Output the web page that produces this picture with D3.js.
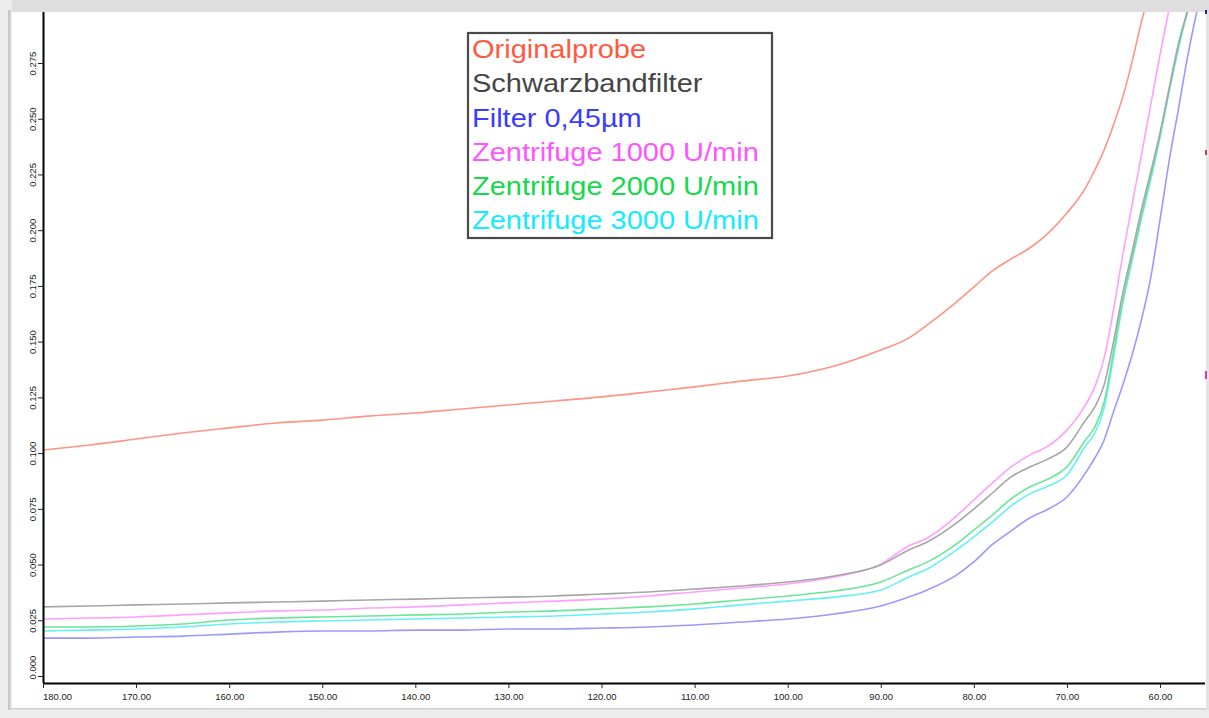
<!DOCTYPE html>
<html><head><meta charset="utf-8">
<script src="https://cdn.jsdelivr.net/npm/d3@7"></script>
<style>html,body{margin:0;padding:0;background:#fff;}svg{display:block;}</style>
</head><body>
<svg id="chart" width="1209" height="718"></svg>
<script>
const xs = [180,175,170,165,160,155,150,145,140,135,130,125,120,115,110,105,100,95,90,87,85,82,80,78,76,74,72,70,68,67,66,65,64,63,62,61,60,59,58,57,56,55.5];
const originalprobe = [.1014,.1036,.1063,.1090,.1113,.1135,.1148,.1166,.1180,.1198,.1216,.1234,.1252,.1274,.1297,.1323,.1346,.1391,.1463,.1516,.1575,.1673,.1745,.1817,.1871,.1920,.1987,.2077,.2190,.2270,.2360,.2472,.2598,.2755,.2934,.3087];
const schwarzband = [.0310,.0314,.0319,.0323,.0328,.0332,.0336,.0341,.0345,.0350,.0354,.0359,.0368,.0377,.0390,.0404,.0422,.0449,.0498,.0565,.0601,.0682,.0749,.0821,.0893,.0938,.0974,.1027,.1148,.1207,.1306,.1498,.1718,.1902,.2091,.2261,.2436,.2638,.2840,.2988,.3145,.3235];
const filter045 = [.0170,.0170,.0175,.0179,.0188,.0197,.0202,.0202,.0206,.0206,.0211,.0211,.0215,.0220,.0229,.0242,.0256,.0278,.0314,.0354,.0386,.0449,.0512,.0590,.0651,.0709,.0749,.0803,.0911,.0978,.1059,.1184,.1306,.1440,.1597,.1786,.2046,.2315,.2548,.2786,.2988,.3078];
const zentri1000 = [.0256,.0260,.0265,.0274,.0283,.0292,.0296,.0305,.0310,.0319,.0328,.0336,.0345,.0359,.0377,.0395,.0413,.0444,.0502,.0583,.0619,.0713,.0790,.0866,.0938,.0991,.1032,.1103,.1216,.1297,.1427,.1642,.1889,.2113,.2337,.2562,.2786,.2997,.3190];
const zentri2000 = [.0220,.0220,.0224,.0233,.0251,.0260,.0265,.0269,.0274,.0278,.0287,.0292,.0301,.0310,.0323,.0341,.0359,.0381,.0422,.0476,.0511,.0588,.0655,.0722,.0794,.0848,.0884,.0938,.1059,.1117,.1229,.1454,.1687,.1875,.2064,.2239,.2427,.2638,.2831,.2997,.3167,.3257];
const zentri3000 = [.0202,.0206,.0211,.0220,.0233,.0242,.0247,.0251,.0256,.0260,.0265,.0269,.0278,.0287,.0301,.0319,.0336,.0354,.0386,.0444,.0480,.0561,.0624,.0691,.0763,.0817,.0852,.0902,.1032,.1090,.1202,.1427,.1669,.1862,.2050,.2225,.2414,.2624,.2817,.2988,.3158,.3248];
const seriesNames = ["Originalprobe","Schwarzbandfilter","Filter 0,45µm","Zentrifuge 1000 U/min","Zentrifuge 2000 U/min","Zentrifuge 3000 U/min"];
const xTicks = [180,170,160,150,140,130,120,110,100,90,80,70,60];
const yTicks = [0,0.025,0.05,0.075,0.1,0.125,0.15,0.175,0.2,0.225,0.25,0.275];

const seriesValues = [originalprobe, schwarzband, filter045, zentri1000, zentri2000, zentri3000];
const lineColors = ["#ff9384","#a6a6a6","#9999ff","#ffa0ff","#6ce598","#66f0f4"];
const textColors = ["#ff5a40","#454545","#3b3bff","#ff55ff","#14d94a","#12ecff"];

const svg = d3.select("#chart");
const L = 43, R = 1205, T = 12, B = 683;

// frame
svg.append("rect").attr("x",0).attr("y",0).attr("width",1209).attr("height",718).attr("fill","#fff");
svg.append("rect").attr("x",0).attr("y",0).attr("width",1209).attr("height",12).attr("fill","#dedede");
svg.append("rect").attr("x",0).attr("y",0).attr("width",12).attr("height",718).attr("fill","#ececec");
svg.append("rect").attr("x",8).attr("y",10).attr("width",2.5).attr("height",700).attr("fill","#c8c8c8");
svg.append("rect").attr("x",10).attr("y",709).attr("width",1199).attr("height",9).attr("fill","#ececec");
svg.append("rect").attr("x",10).attr("y",708).attr("width",1199).attr("height",1.5).attr("fill","#d2d2d2");
svg.append("rect").attr("x",1206).attr("y",12).attr("width",3).attr("height",697).attr("fill","#e4e4e4");

const x = d3.scaleLinear().domain([180,60]).range([L,1160]);
const y = d3.scaleLinear().domain([0,0.275]).range([676,63]);

svg.append("clipPath").attr("id","clip").append("rect")
  .attr("x",L).attr("y",T).attr("width",R-L).attr("height",B-T);

const line = d3.line().x(d=>x(d[0])).y(d=>y(d[1])).curve(d3.curveMonotoneX);
const g = svg.append("g").attr("clip-path","url(#clip)");
[2,5,4,0,3,1].forEach(i=>{
  const pts = seriesValues[i].map((v,k)=>[xs[k],v]);
  g.append("path").attr("d",line(pts)).attr("fill","none")
    .attr("stroke",lineColors[i]).attr("stroke-width",1.6).attr("stroke-linejoin","round");
});

// axes
const xAxis = d3.axisBottom(x).tickValues(xTicks).tickFormat(d3.format(".2f")).tickSize(5).tickSizeOuter(0);
const xg = svg.append("g").attr("transform",`translate(0,${B})`).call(xAxis);
xg.select(".domain").attr("d",`M${L},0.5H${R}`).attr("stroke","#000").attr("stroke-width",2);
xg.selectAll("line").attr("stroke","#222");
xg.selectAll("text").attr("font-family","Liberation Sans, Arial, sans-serif").attr("font-size",9.5).attr("fill","#222").attr("dy","0.9em")
  .attr("dx",d=>d===180?14:0);

const yAxis = d3.axisLeft(y).tickValues(yTicks).tickFormat(d3.format(".3f")).tickSize(5).tickSizeOuter(0);
const yg = svg.append("g").attr("transform",`translate(${L},0)`).call(yAxis);
yg.select(".domain").attr("d",`M0.5,${T}V${B}`).attr("stroke","#000").attr("stroke-width",2);
yg.selectAll("line").attr("stroke","#222");
yg.selectAll("text")
  .attr("font-family","Liberation Sans, Arial, sans-serif").attr("font-size",9.5).attr("fill","#222")
  .attr("x",null).attr("dy",null)
  .attr("text-anchor","middle")
  .attr("transform",d=>`translate(-7,${d===0? -9 : 0}) rotate(-90)`)
  .attr("y",0);

// small markers on edges
svg.append("rect").attr("x",1205).attr("y",150).attr("width",2).attr("height",5).attr("fill","#c04040");
svg.append("rect").attr("x",1205).attr("y",371).attr("width",2).attr("height",8).attr("fill","#c040c0");
svg.append("rect").attr("x",1205).attr("y",10).attr("width",2).attr("height",4).attr("fill","#2020a0");

// legend
const lg = svg.append("g");
lg.append("rect").attr("x",468).attr("y",33).attr("width",304).attr("height",205)
  .attr("fill","#fff").attr("stroke","#4a4a4a").attr("stroke-width",2.2);
const lt = lg.append("g").attr("transform","translate(472,0) scale(1.16,1)");
seriesNames.forEach((n,i)=>{
  lt.append("text").attr("x",0).attr("y",58+i*34.3).text(n)
    .attr("font-family","Liberation Sans, Arial, sans-serif").attr("font-size",25)
    .attr("fill",textColors[i]);
});
</script>
</body></html>
